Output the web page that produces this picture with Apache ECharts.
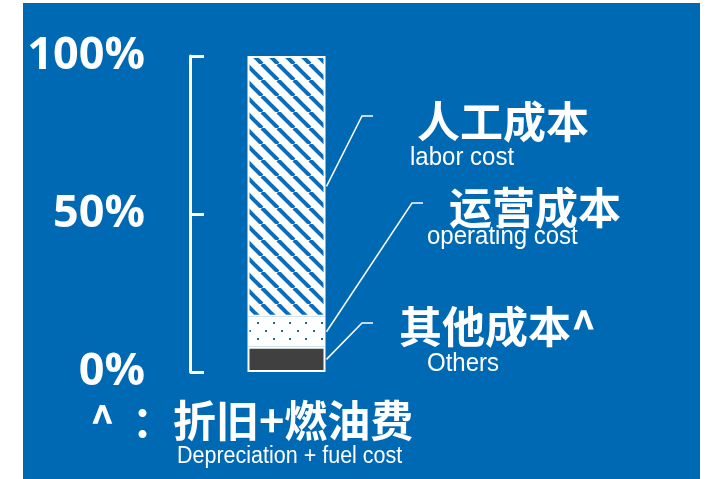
<!DOCTYPE html>
<html>
<head>
<meta charset="utf-8">
<script src="https://cdn.jsdelivr.net/npm/echarts@6/dist/echarts.min.js"></script>
<style>
  html, body { margin: 0; padding: 0; background: #ffffff; }
  #chart { width: 712px; height: 479px; }
</style>
</head>
<body>
<div id="chart"></div>
<script>
// Cost structure: one 100% stacked column, bottom to top
const categories = ['成本'];
const seriesNames = ['其他成本', '运营成本', '人工成本'];
const othersShare = [8];
const operatingShare = [9.5];
const laborShare = [82.5];

// Value axis ticks (percent)
const axisMin = 0;
const axisMax = 100;
const axisStep = 50;

// Callout texts, top to bottom
const cnLabels = ['人工成本', '运营成本', '其他成本^'];
const enLabels = ['labor cost', 'operating cost', 'Others'];
const footCaret = '^';
const footColon = '：';
const footCn = '折旧+燃油费';
const footEn = 'Depreciation + fuel cost';

const BLUE = '#0069b4';
const STRIPE = '#0b6dba';
const CJK = '"Noto Sans CJK SC", "Noto Sans", sans-serif';
const LATIN = '"Liberation Sans", Arial, sans-serif';

function hatchTile() {
  const c = document.createElement('canvas');
  c.width = 16; c.height = 16;
  const g = c.getContext('2d');
  g.fillStyle = '#ffffff';
  g.fillRect(0, 0, 16, 16);
  g.strokeStyle = STRIPE;
  g.lineWidth = 4;
  for (let o = -32; o <= 16; o += 16) {
    g.beginPath();
    g.moveTo(6 + o, 0);
    g.lineTo(22 + o, 16);
    g.stroke();
  }
  return c;
}

function dotTile() {
  const c = document.createElement('canvas');
  c.width = 16; c.height = 16;
  const g = c.getContext('2d');
  g.fillStyle = '#ffffff';
  g.fillRect(0, 0, 16, 16);
  g.fillStyle = STRIPE;
  g.fillRect(1, 2, 2, 2);
  g.fillRect(9, 10, 2, 2);
  return c;
}

const chart = echarts.init(document.getElementById('chart'), null, { renderer: 'canvas' });
const BAR_W = 78;

chart.setOption({
  backgroundColor: '#ffffff',
  animation: false,
  grid: { left: 190, top: 56, width: 193, height: 316, containLabel: false },
  xAxis: {
    type: 'category',
    data: categories,
    show: false
  },
  yAxis: {
    type: 'value',
    min: axisMin,
    max: axisMax,
    interval: axisStep,
    axisLine: { show: true, lineStyle: { color: '#ffffff', width: 3 } },
    axisTick: { show: true, inside: true, length: 14, lineStyle: { color: '#ffffff', width: 3 } },
    splitLine: { show: false },
    axisLabel: {
      formatter: '{value}%',
      color: '#ffffff',
      fontFamily: '"Open Sans", sans-serif',
      fontWeight: 'bold',
      fontSize: 45,
      margin: 45
    }
  },
  series: [
    {
      name: seriesNames[0], type: 'bar', stack: 'cost', barWidth: BAR_W, data: othersShare,
      itemStyle: { color: '#404040', borderColor: '#ffffff', borderWidth: 2 }
    },
    {
      name: seriesNames[1], type: 'bar', stack: 'cost', barWidth: BAR_W, data: operatingShare,
      itemStyle: { color: { image: dotTile(), repeat: 'repeat' }, borderColor: '#ffffff', borderWidth: 2 }
    },
    {
      name: seriesNames[2], type: 'bar', stack: 'cost', barWidth: BAR_W, data: laborShare,
      itemStyle: { color: { image: hatchTile(), repeat: 'repeat' }, borderColor: '#ffffff', borderWidth: 2 }
    }
  ]
});

// Leader lines start at the middle of each stacked segment
const segs = [laborShare[0], operatingShare[0], othersShare[0]];
const bases = [othersShare[0] + operatingShare[0], othersShare[0], 0];
const mids = segs.map((v, i) => bases[i] + v / 2);
const xCenter = chart.convertToPixel({ xAxisIndex: 0, yAxisIndex: 0 }, [0, 0])[0];
const xEdge = xCenter + BAR_W / 2 + 1;

const elbows = [[362, 116], [412, 203], [362, 323]];
const cnPos = [[417, 122], [449, 208], [399, 327]];
const enPos = [[410, 158], [427, 237], [427, 364]];

const graphics = [
  { type: 'rect', z: -10, silent: true, shape: { x: 23, y: 3, width: 677, height: 476 }, style: { fill: BLUE } }
];

mids.forEach((m, i) => {
  const y = chart.convertToPixel({ xAxisIndex: 0, yAxisIndex: 0 }, [0, m])[1];
  const e = elbows[i];
  graphics.push({
    type: 'polyline', z: 10, silent: true,
    shape: { points: [[xEdge, y], e, [e[0] + 11, e[1]]] },
    style: { stroke: '#ffffff', lineWidth: 1.5, fill: null }
  });
  graphics.push({
    type: 'text', z: 10, x: cnPos[i][0], y: cnPos[i][1],
    style: { text: cnLabels[i], fill: '#ffffff', font: 'bold 43px ' + CJK, textAlign: 'left', textVerticalAlign: 'middle' }
  });
  graphics.push({
    type: 'text', z: 10, x: enPos[i][0], y: enPos[i][1], scaleY: 1.1,
    style: { text: enLabels[i], fill: '#ffffff', font: '24px ' + LATIN, textAlign: 'left', textVerticalAlign: 'middle' }
  });
});

// Footnote
graphics.push({
  type: 'text', z: 10, x: 90, y: 421,
  style: { text: footCaret, fill: '#ffffff', font: 'bold 42px ' + CJK, textAlign: 'left', textVerticalAlign: 'middle' }
});
graphics.push({
  type: 'text', z: 10, x: 153, y: 421,
  style: { text: footColon, fill: '#ffffff', font: 'bold 42px ' + CJK, textAlign: 'center', textVerticalAlign: 'middle' }
});
graphics.push({
  type: 'text', z: 10, x: 173, y: 421,
  style: { text: footCn, fill: '#ffffff', font: 'bold 43px ' + CJK, textAlign: 'left', textVerticalAlign: 'middle' }
});
graphics.push({
  type: 'text', z: 10, x: 177, y: 456, scaleY: 1.1,
  style: { text: footEn, fill: '#ffffff', font: '21.5px ' + LATIN, textAlign: 'left', textVerticalAlign: 'middle' }
});

chart.setOption({ graphic: graphics });
</script>
</body>
</html>
